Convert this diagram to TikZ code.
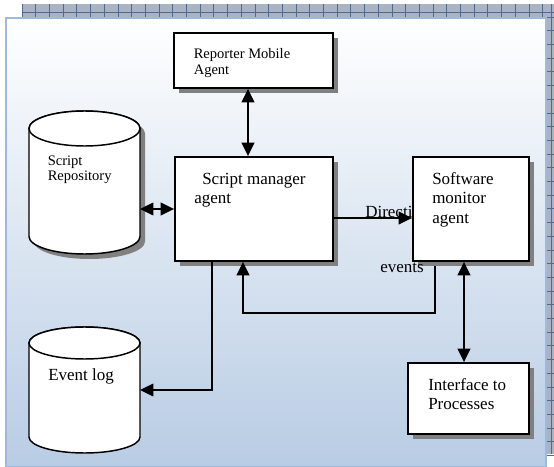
\documentclass[tikz,border=0pt]{standalone}
\usepackage{fontspec}
\setmainfont{Liberation Serif}
\usetikzlibrary{arrows.meta,shadows}
\definecolor{panelblue}{HTML}{B8CCE4}
\definecolor{edgeblue}{HTML}{9DB9DD}
\definecolor{stripgray}{HTML}{A9B3C1}
\definecolor{gridblue}{HTML}{4F6A8F}
\definecolor{shadowgray}{HTML}{808080}

\begin{document}
\begin{tikzpicture}[x=0.75pt,y=0.75pt,yscale=-1,xscale=1,
	box/.style={draw, line width=1.4pt, fill=white, rectangle, inner sep=0pt, drop shadow={shadow xshift=3.75pt, shadow yshift=-3.75pt, fill=shadowgray, opacity=1}},
	drum/.style={draw, line width=1.1pt, fill=white},
	big/.style={inner sep=0pt, align=left, font=\fontsize{12.75pt}{14.4pt}\selectfont},
	small/.style={inner sep=0pt, align=left, font=\fontsize{10.9pt}{11.8pt}\selectfont},
	arr/.style={line width=1.1pt, -{Triangle[length=10pt,width=9.5pt]}},
	dbl/.style={line width=1.1pt, {Triangle[length=10pt,width=9.5pt]}-{Triangle[length=10pt,width=9.5pt]}}]
	\useasboundingbox (0,0) rectangle (554,467);
	% backdrop
	\fill [stripgray] (22,4) rectangle (554,17);
	\fill [stripgray] (546,4) rectangle (554,454);
	\foreach \gx in {0,...,38} \draw [gridblue, line width=0.5pt] (22+\gx*13.7,4) -- (22+\gx*13.7,17);
	\foreach \gy in {0,...,32} \draw [gridblue, line width=0.5pt] (546,17+\gy*13.7) -- (554,17+\gy*13.7);
	\draw [gridblue, line width=0.5pt] (22,12.5) -- (554,12.5) (551,4) -- (551,454);
	\draw [edgeblue, line width=1.2pt, top color=white, bottom color=panelblue] (6,18) rectangle (546,467);
	\node (dirtxt) at (365,218) [anchor=base west, big] {Directives};
	% stores
	\fill [shadowgray] (34,133.5) -- (34,241.5) arc [start angle=180, end angle=0, x radius=55.5, y radius=17.5] -- (145,133.5) arc [start angle=0, end angle=-180, x radius=55.5, y radius=17.5] -- cycle;
	\draw [drum] (29,128.5) -- (29,236.5) arc [start angle=180, end angle=0, x radius=55.5, y radius=17.5] -- (140,128.5) arc [start angle=0, end angle=-180, x radius=55.5, y radius=17.5] -- cycle;
	\draw [drum] (84.5,128.5) ellipse [x radius=55.5, y radius=17.5];
	\draw [drum] (29,343) -- (29,437) arc [start angle=180, end angle=0, x radius=55.5, y radius=16] -- (140,343) arc [start angle=0, end angle=-180, x radius=55.5, y radius=16] -- cycle;
	\draw [drum] (84.5,343) ellipse [x radius=55.5, y radius=16];
	\node (repo) at (84.5,182.5) [inner sep=0pt, outer sep=0pt, minimum width=83.25pt, minimum height=107.25pt] {};
	\node (evlog) at (84.5,390) [inner sep=0pt, outer sep=0pt, minimum width=83.25pt, minimum height=94.5pt] {};
	% blocks
	\node (reporter) at (253.5,60.5) [box, minimum width=119.25pt, minimum height=41.25pt] {};
	\node (manager) at (254,209) [box, minimum width=118.5pt, minimum height=78pt] {};
	\node (monitor) at (471,209) [box, minimum width=87pt, minimum height=78pt] {};
	\node (iface) at (468.5,398.5) [box, minimum width=90.75pt, minimum height=53.25pt] {};
	\node (reptxt) at (193.5,48.3) [anchor=north west, small] {Reporter Mobile\\Agent};
	\node (mantxt) at (194,172.5) [anchor=north west, big] {\hspace*{6pt}Script manager\\agent};
	\node (montxt) at (432,172.5) [anchor=north west, big] {Software\\monitor\\agent};
	\node (ifctxt) at (428,378.5) [anchor=north west, big] {Interface to\\Processes};
	\node (repotxt) at (47.5,155.2) [anchor=north west, small] {Script\\Repository};
	\node (logtxt) at (48,380) [anchor=base west, big] {Event log};
	\node (evttxt) at (380,272) [anchor=base west, big] {events};
	% links
	\coordinate (rmx) at (248,0);
	\coordinate (dirline) at (0,218);
	\coordinate (evt) at (435,266);
	\coordinate (loop) at (243,313);
	\coordinate (tap) at (212,0);
	\coordinate (mix) at (464,0);
	\draw [dbl] (reporter.south -| rmx) -- (manager.north -| rmx);
	\draw [dbl] (repo.east |- manager.west) -- (manager.west);
	\draw [arr] (manager.east |- dirline) -- (monitor.west |- dirline);
	\draw [arr] (evt) |- (loop) -- (manager.south -| loop);
	\draw [arr] (manager.south -| tap) |- (evlog.east);
	\draw [dbl] (monitor.south -| mix) -- (iface.north -| mix);
\end{tikzpicture}
\end{document}
